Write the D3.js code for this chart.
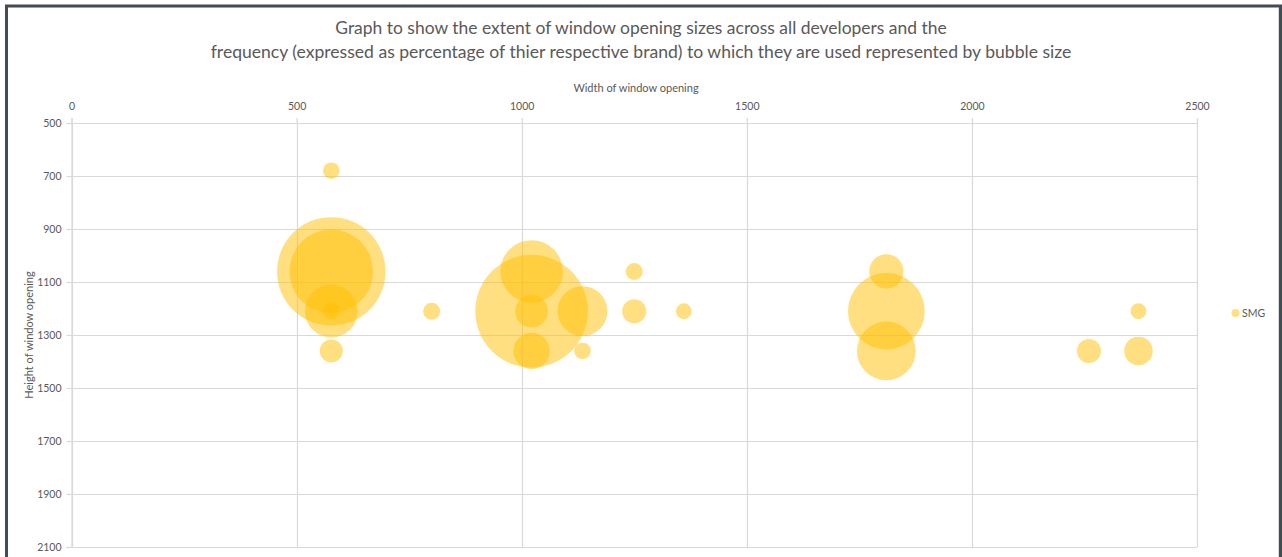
<!DOCTYPE html>
<html>
<head>
<meta charset="utf-8">
<script src="https://cdn.jsdelivr.net/npm/d3@7"></script>
<style>
  html, body { margin: 0; padding: 0; background: #fff; }
  svg { display: block; }
  text { font-family: Lato, "Open Sans", sans-serif; fill: #595959; }
</style>
</head>
<body>
<svg id="chart" width="1282" height="557"></svg>
<script>
// ---- data ----
const titleLines = [
  "Graph to show the extent of window opening sizes across all developers and the",
  "frequency (expressed as percentage of thier respective brand) to which they are used represented by bubble size"
];
const xAxisTitle = "Width of window opening";
const yAxisTitle = "Height of window opening";
const seriesName = "SMG";
const xTicks = [0, 500, 1000, 1500, 2000, 2500];
const yTicks = [500, 700, 900, 1100, 1300, 1500, 1700, 1900, 2100];
// bubble widths (mm), heights (mm), sizes (% of brand)
const widths  = [577, 577, 577, 577, 577, 577, 800, 1022, 1022, 1022, 1022, 1135, 1135, 1250, 1250, 1360, 1810, 1810, 1810, 2260, 2370, 2370];
const heights = [680, 1060, 1060, 1210, 1210, 1360, 1210, 1210, 1060, 1210, 1360, 1210, 1360, 1060, 1210, 1210, 1060, 1210, 1360, 1360, 1210, 1360];
const sizes   = [0.54, 23.2, 13.8, 5.5, 0.54, 1.04, 0.57, 25.0, 7.7, 2.1, 2.6, 4.9, 0.54, 0.57, 1.14, 0.48, 2.3, 11.6, 6.8, 1.14, 0.5, 1.6];

const svg = d3.select("#chart");
const W = 1282, H = 557;
const plot = { left: 71.5, right: 1197, top: 123, bottom: 547 };

// outer frame
svg.append("rect").attr("x", 6.5).attr("y", 6).attr("width", 1274).attr("height", 560)
  .attr("fill", "#fff").attr("stroke", "#434b53").attr("stroke-width", 3);

// title
function fitText(sel, target) {
  sel.each(function() {
    const el = d3.select(this);
    let fs = parseFloat(el.attr("font-size"));
    const len = this.getComputedTextLength();
    el.attr("font-size", (fs * target / len).toFixed(2));
  });
}
const titleTargets = [612, 861];
svg.selectAll("text.title").data(titleLines).join("text")
  .attr("class", "title")
  .attr("x", 641).attr("y", (d, i) => 34 + i * 24)
  .attr("text-anchor", "middle").attr("font-size", 16)
  .text(d => d)
  .each(function(d, i) { fitText(d3.select(this), titleTargets[i]); });

const x = d3.scaleLinear().domain([0, 2500]).range([plot.left, plot.right]);
const y = d3.scaleLinear().domain([500, 2100]).range([plot.top, plot.bottom]);
const r = d3.scaleSqrt().domain([0, d3.max(sizes)]).range([0, 56.3]);

// gridlines
const g = svg.append("g");
g.selectAll("line.hg").data(yTicks).join("line")
  .attr("x1", plot.left).attr("x2", plot.right)
  .attr("y1", d => Math.round(y(d)) + 0.5).attr("y2", d => Math.round(y(d)) + 0.5)
  .attr("stroke", "#d9d9d9").attr("stroke-width", 1.2);
g.selectAll("line.vg").data(xTicks).join("line")
  .attr("y1", plot.top).attr("y2", plot.bottom)
  .attr("x1", d => Math.round(x(d)) + 0.5).attr("x2", d => Math.round(x(d)) + 0.5)
  .attr("stroke", "#d9d9d9").attr("stroke-width", 1.2);

// axes
const xAxis = d3.axisTop(x).tickValues(xTicks).tickSize(5).tickPadding(8).tickFormat(d3.format("d"));
const yAxis = d3.axisLeft(y).tickValues(yTicks).tickSize(5).tickPadding(5).tickFormat(d3.format("d"));
const xg = svg.append("g").attr("transform", `translate(0,${plot.top})`).call(xAxis);
const yg = svg.append("g").attr("transform", `translate(${plot.left},0)`).call(yAxis);
[xg, yg].forEach(a => {
  a.select(".domain").attr("stroke", "#d9d9d9").attr("stroke-width", 1.2);
  a.selectAll(".tick line").attr("stroke", "#d9d9d9").attr("stroke-width", 1.2);
  a.selectAll(".tick text").attr("fill", "#595959").attr("font-size", 10.5)
    .attr("font-family", "Lato, 'Open Sans', sans-serif");
});

// axis titles
svg.append("text").attr("x", 636).attr("y", 92).attr("text-anchor", "middle")
  .attr("font-size", 11).text(xAxisTitle);
svg.append("text").attr("transform", `translate(33,${(plot.top + plot.bottom) / 2}) rotate(-90)`)
  .attr("text-anchor", "middle").attr("font-size", 11).text(yAxisTitle);

// bubbles
const pts = widths.map((w, i) => ({ w, h: heights[i], s: sizes[i] }));
svg.append("g").selectAll("circle").data(pts).join("circle")
  .attr("cx", d => x(d.w)).attr("cy", d => y(d.h)).attr("r", d => r(d.s))
  .attr("fill", "#FFC000").attr("fill-opacity", 0.5);

// legend
svg.append("circle").attr("cx", 1235.5).attr("cy", 313).attr("r", 4)
  .attr("fill", "#FFC000").attr("fill-opacity", 0.5);
svg.append("text").attr("x", 1242).attr("y", 317).attr("font-size", 10.5).text(seriesName);

// right inner line
svg.append("line").attr("x1", 1278.5).attr("x2", 1278.5).attr("y1", 8).attr("y2", 557)
  .attr("stroke", "#d9d9d9");
</script>
</body>
</html>
